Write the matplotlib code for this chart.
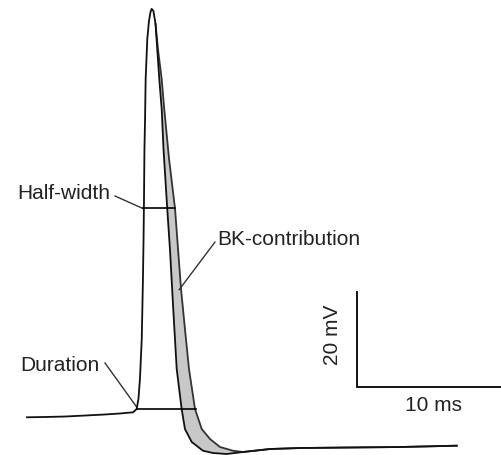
import matplotlib
matplotlib.use("Agg")
import matplotlib.pyplot as plt
import numpy as np

# action potential traces, time in ms, voltage in mV (relative to baseline)
# shared baseline + rising phase up to the peak
rise_t = [0.0, 1.2, 2.53, 3.87, 5.2, 6.2, 7.07, 7.31, 7.43, 7.53, 7.65, 7.73,
          7.77, 7.8, 7.83, 7.87, 7.91, 8.02, 8.13, 8.23, 8.31, 8.43, 8.57]
rise_v = [-0.48, -0.42, -0.32, -0.11, 0.11, 0.32, 0.57, 1.26, 3.37, 7.58, 16.0, 28.6,
          37.05, 45.5, 56.0, 62.3, 70.7, 79.2, 82.9, 84.8, 85.5, 85.05, 82.3]

# control repolarisation (narrow spike)
ctrl_t = [8.57, 8.82, 8.98, 9.1, 9.35, 9.53, 9.75, 9.98, 10.31, 10.53, 10.98,
          11.73, 12.4, 13.31, 14.4]
ctrl_v = [82.3, 70.7, 64.4, 56.0, 43.4, 34.9, 22.3, 9.68, 1.26, -2.95, -5.68,
          -7.52, -8.0, -8.21, -7.79]

# repolarisation with BK channels blocked (broad spike)
bk_t = [8.57, 8.73, 8.98, 9.15, 9.47, 9.87, 10.07, 10.27, 10.53, 10.8, 11.2,
        11.65, 12.2, 12.87, 13.73, 14.4]
bk_v = [82.3, 77.05, 70.7, 64.4, 53.9, 43.4, 34.9, 26.5, 18.1, 9.68, 1.26,
        -2.95, -5.05, -6.74, -7.52, -7.79]

# shared after-hyperpolarisation tail
tail_t = [14.4, 16.2, 18.2, 21.53, 24.87, 28.65]
tail_v = [-7.79, -7.16, -6.95, -6.84, -6.74, -6.46]

# measurement markers
half_width = (7.71, 9.87, 43.5)   # t_start, t_end, level
duration = (7.33, 11.27, 1.16)

# scale bar
bar_ms = 10
bar_mv = 20

fig = plt.figure(figsize=(5.01, 4.56), dpi=100)
ax = fig.add_axes([0, 0, 1, 1])
ax.set_xlim(-1.8, 31.6)
ax.set_ylim(-8.42, 87.58)
ax.axis('off')

# BK contribution shading between the two repolarisations
poly_t = bk_t + ctrl_t[::-1]
poly_v = bk_v + ctrl_v[::-1]
ax.fill(poly_t, poly_v, color='#c8c8c8', lw=0, zorder=1)

lw = 1.3
ax.plot(rise_t + ctrl_t[1:] + tail_t[1:], rise_v + ctrl_v[1:] + tail_v[1:],
        color='#111111', lw=lw, zorder=3)
ax.plot(bk_t + tail_t[1:], bk_v + tail_v[1:], color='#333333', lw=lw, zorder=2)

ax.plot(half_width[:2], [half_width[2]] * 2, color='black', lw=1.2, zorder=4)
ax.plot(duration[:2], [duration[2]] * 2, color='black', lw=1.2, zorder=4)

font = dict(family='Liberation Sans', fontsize=15, color='#222222')

ax.text(-1.8 + (17 - 0) / 15, 46.9, 'Half-width', ha='left', va='center', **font)
ax.plot([5.87, 7.71], [46.1, 43.5], color='#333333', lw=1.0)

ax.text(-1.8 + 20 / 15, 10.7, 'Duration', ha='left', va='center', **font)
ax.plot([5.2, 7.33], [10.95, 1.6], color='#333333', lw=1.0)

ax.text(12.7, 37.1, 'BK-contribution', ha='left', va='center', **font)
ax.plot([12.53, 10.15], [36.4, 26.4], color='#333333', lw=1.0)

# scale bar
x0, y0 = 22.0, 5.9
ax.plot([x0, x0, x0 + bar_ms], [y0 + bar_mv, y0, y0], color='black', lw=1.3,
        solid_joinstyle='miter', clip_on=False)
ax.text(x0 - 1.6, y0 + bar_mv / 2 + 1.2, f'{bar_mv} mV', rotation=90,
        ha='center', va='center', **font)
ax.text(x0 + 5.07, y0 - 3.6, f'{bar_ms} ms', ha='center', va='center', **font)

fig.savefig('out.png', dpi=100)
